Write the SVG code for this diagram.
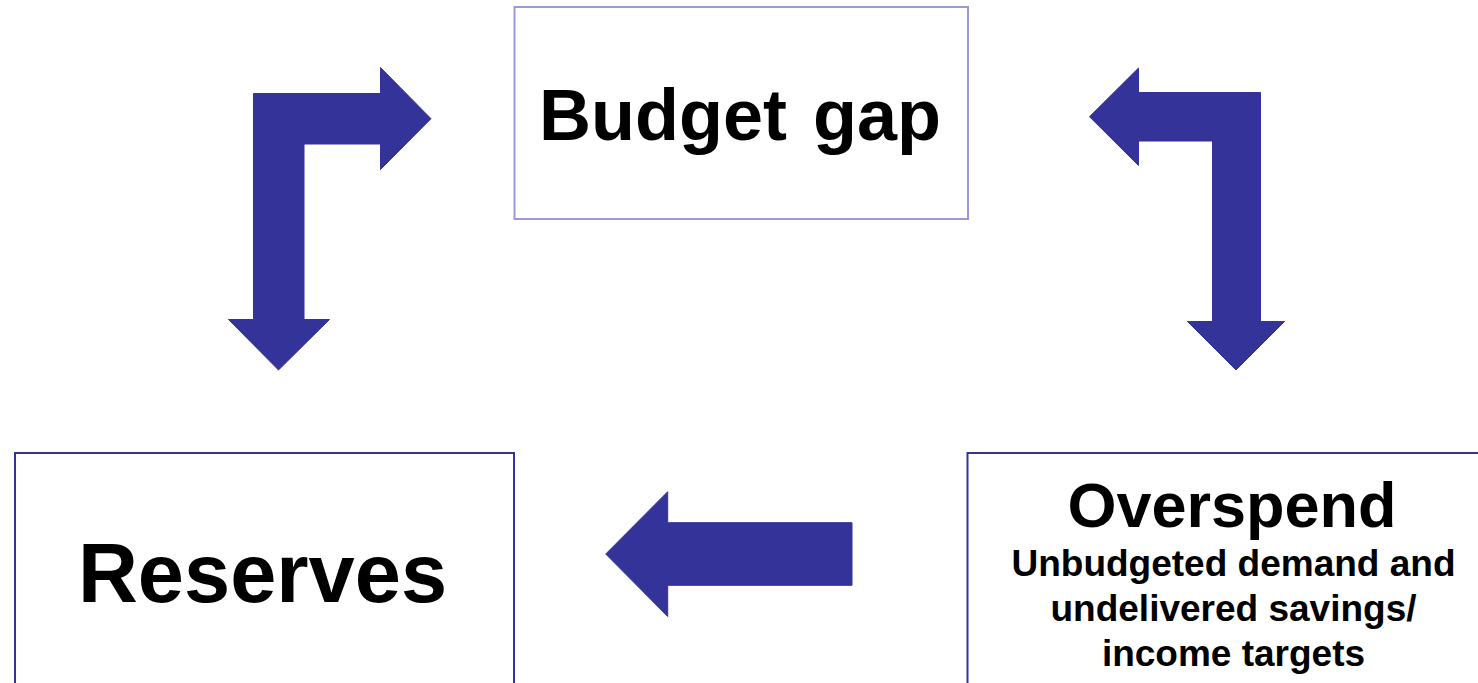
<svg xmlns="http://www.w3.org/2000/svg" width="1478" height="683" viewBox="0 0 1478 683">
<style>
.arrow{fill:#333399;stroke:#333399;stroke-width:1}
.t{font-family:"Liberation Sans",Arial,sans-serif;font-weight:bold;fill:#000;text-anchor:middle}
.box{fill:#fff;stroke:#333399;stroke-width:2}
.sub{font-size:37px}
</style>
<rect width="1478" height="683" fill="#fff"/>
<g id="connectors">
<path class="arrow" d="M253.5,93.5 L380.5,93.5 L380.5,67.5 L431,118.7 L380.5,169.5 L380.5,144 L304,144 L304,319.5 L329.5,319.5 L278.5,370 L228.5,319.5 L253.5,319.5 Z"/>
<path class="arrow" d="M1260.5,92.5 L1260.5,321.5 L1284.5,321.5 L1236,370 L1187.5,321.5 L1212.5,321.5 L1212.5,141 L1138.5,141 L1138.5,165.5 L1089.5,116.7 L1138.5,68 L1138.5,92.5 Z"/>
<path class="arrow" d="M852,522.7 L852,585.3 L667.7,585.3 L667.7,616.5 L605.7,554 L667.7,491.7 L667.7,522.7 Z"/>
</g>
<g id="budget-gap">
<rect x="514.5" y="7" width="453.5" height="212" fill="#fff" stroke="#9999dd" stroke-width="2"/>
<text class="t" x="740" y="140" font-size="72" word-spacing="6">Budget gap</text>
</g>
<g id="reserves">
<rect class="box" x="15" y="453" width="499" height="240"/>
<text class="t" x="262.5" y="602" font-size="83">Reserves</text>
</g>
<g id="overspend">
<rect class="box" x="967.5" y="453" width="530" height="240"/>
<text class="t" x="1232" y="527" font-size="63">Overspend</text>
<text class="t sub" x="1233.5" y="576">Unbudgeted demand and</text>
<text class="t sub" x="1233.5" y="621">undelivered savings/</text>
<text class="t sub" x="1233.5" y="666">income targets</text>
</g>
</svg>
